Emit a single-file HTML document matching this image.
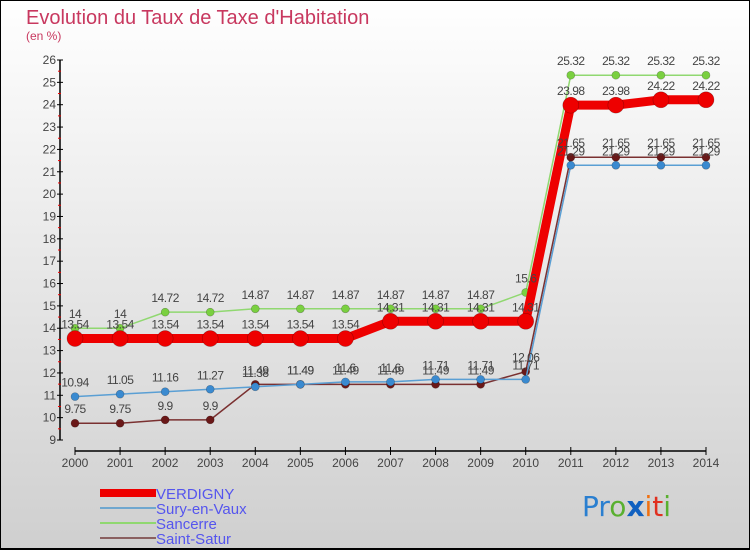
<!DOCTYPE html>
<html><head><meta charset="utf-8"><style>
html,body{margin:0;padding:0}
body{width:750px;height:550px;overflow:hidden;font-family:"Liberation Sans",sans-serif}
svg{display:block}
</style></head><body>
<svg id="chart" width="750" height="550" xmlns="http://www.w3.org/2000/svg">
<defs><linearGradient id="bg" x1="0" y1="0" x2="0" y2="1"><stop offset="0" stop-color="#ffffff"/><stop offset="1" stop-color="#cfcfcf"/></linearGradient></defs>
<rect x="0" y="0" width="750" height="550" fill="url(#bg)"/>
<rect x="0.5" y="0.5" width="749" height="548" fill="none" stroke="#000"/>
<line x1="0" y1="549" x2="750" y2="549" stroke="#000" stroke-width="2"/>
<text x="26" y="24" font-size="20" fill="#c8385f">Evolution du Taux de Taxe d'Habitation</text>
<text x="26" y="40" font-size="12" fill="#c8385f">(en %)</text>
<g id="axes"></g><g id="series"></g><g id="labels"></g>
<g>
<rect x="100" y="489" width="56" height="8" fill="#ee0000"/>
<text x="156" y="499" font-size="15" fill="#5555ee">VERDIGNY</text>
<rect x="100" y="507" width="56" height="2" fill="#6fa7cf"/>
<text x="156" y="514" font-size="15" fill="#5555ee">Sury-en-Vaux</text>
<rect x="100" y="522" width="56" height="2" fill="#90d870"/>
<text x="156" y="529" font-size="15" fill="#5555ee">Sancerre</text>
<rect x="100" y="537" width="56" height="2" fill="#8a6060"/>
<text x="156" y="544" font-size="15" fill="#5555ee">Saint-Satur</text>
</g>
<text x="582" y="516" font-size="28" font-family="'DejaVu Sans',sans-serif"><tspan fill="#2a7fd0">Pr</tspan><tspan fill="#59b030">o</tspan><tspan fill="#1060c0" font-weight="bold">x</tspan><tspan fill="#f07010">i</tspan><tspan fill="#e03020">t</tspan><tspan fill="#59b030">i</tspan></text>
</svg>
<script>
const years = [2000,2001,2002,2003,2004,2005,2006,2007,2008,2009,2010,2011,2012,2013,2014];
const verdigny = [13.54,13.54,13.54,13.54,13.54,13.54,13.54,14.31,14.31,14.31,14.31,23.98,23.98,24.22,24.22];
const sury = [10.94,11.05,11.16,11.27,11.38,11.49,11.6,11.6,11.71,11.71,11.71,21.29,21.29,21.29,21.29];
const sancerre = [14,14,14.72,14.72,14.87,14.87,14.87,14.87,14.87,14.87,15.6,25.32,25.32,25.32,25.32];
const saintSatur = [9.75,9.75,9.9,9.9,11.49,11.49,11.49,11.49,11.49,11.49,12.06,21.65,21.65,21.65,21.65];
const yTicks = [9,10,11,12,13,14,15,16,17,18,19,20,21,22,23,24,25,26];

const NS="http://www.w3.org/2000/svg";
const yMin=9,yMax=26,yTop=60,yBot=440,xL=75,xR=706;
const xS=i=>xL+(xR-xL)*i/(years.length-1);
const yS=v=>yBot-(v-yMin)*(yBot-yTop)/(yMax-yMin);
function mk(tag,attrs,parent){const e=document.createElementNS(NS,tag);for(const k in attrs)e.setAttribute(k,attrs[k]);parent.appendChild(e);return e;}
const axes=document.getElementById('axes'),ser=document.getElementById('series'),lab=document.getElementById('labels');

let a=mk('line',{x1:60,y1:yTop,x2:60,y2:yBot,stroke:'#000','stroke-width':1.5},axes);


a=mk('line',{x1:xL,y1:451,x2:xR,y2:451,stroke:'#000','stroke-width':1.5},axes);


yTicks.forEach(v=>{
  const y=yS(v);
  mk('line',{x1:57,y1:y,x2:63,y2:y,stroke:'#000'},axes);
  if(v<yMax) mk('line',{x1:58,y1:y-(yBot-yTop)/(yMax-yMin)/2,x2:61,y2:y-(yBot-yTop)/(yMax-yMin)/2,stroke:'#e00'},axes);
  const t=mk('text',{x:56,y:y+4,'font-size':12,'text-anchor':'end',fill:'#444'},axes);
  t.textContent=v;
  
  
});
years.forEach((yr,i)=>{
  const x=xS(i);
  mk('line',{x1:x,y1:447,x2:x,y2:455,stroke:'#000'},axes);
  const t=mk('text',{x:x,y:467,'font-size':12,'text-anchor':'middle',fill:'#444'},axes);
  t.textContent=yr;
  
  
});
function draw(data,name,color,lw,r,fill){
  const g=mk('g',{},ser);
  
  
  const p=mk('polyline',{points:data.map((v,i)=>xS(i)+','+yS(v)).join(' '),fill:'none',stroke:color,'stroke-width':lw,'stroke-linejoin':'round'},g);
  
  
  data.forEach((v,i)=>{
    const c=mk('circle',{cx:xS(i),cy:yS(v),r:r,fill:fill,stroke:'rgba(0,0,0,0.3)','stroke-width':0.6},g);
    
    
    const t=mk('text',{x:xS(i),y:yS(v)-10,'font-size':12,'text-anchor':'middle',fill:'#444','letter-spacing':'-0.5'},lab);
    t.textContent=v;
    
    
  });
}
draw(saintSatur,'saint-satur','#7a3030',1.5,4,'#6a1818');
draw(sury,'sury-en-vaux','#5a9fd4',1.5,4,'#3a8ad0');
draw(sancerre,'sancerre','#90d870',1.5,4,'#7ad040');
draw(verdigny,'verdigny','#ee0000',9,8,'#ee0000');
</script>
</body></html>
